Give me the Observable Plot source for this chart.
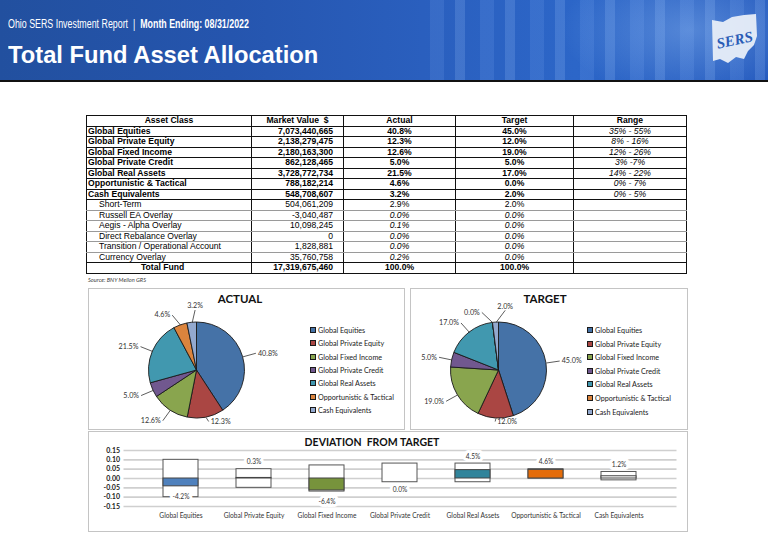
<!DOCTYPE html>
<html>
<head>
<meta charset="utf-8">
<script src="https://cdn.jsdelivr.net/npm/d3@7"></script>
<script src="https://cdn.jsdelivr.net/npm/@observablehq/plot@0.6"></script>
<style>
html,body{margin:0;padding:0;background:#fff;}
body{width:768px;height:552px;position:relative;overflow:hidden;font-family:"Liberation Sans",Arial,sans-serif;}
#header{position:absolute;left:0;top:0;width:768px;height:80px;border-bottom:2px solid #111;overflow:hidden;
  background:linear-gradient(90deg,#22509f 0%,#2555ae 30%,#2a5fbe 55%,#2c66c8 75%,#2258bd 100%);}
#stripes{position:absolute;left:430px;top:0;width:338px;height:80px;
  background:repeating-linear-gradient(90deg,rgba(150,190,255,0.13) 0 14px,rgba(0,0,0,0) 14px 25px,rgba(170,205,255,0.18) 25px 35px,rgba(0,0,0,0) 35px 50px);}
#glow{position:absolute;left:560px;top:-40px;width:260px;height:140px;background:radial-gradient(ellipse at center,rgba(170,210,255,0.35),rgba(0,0,0,0) 70%);}
.nar{display:inline-block;transform-origin:left center;white-space:nowrap;}
#sub .nar{transform:scaleX(0.72);}
#title .nar{transform:scaleX(1.01);}
#sub{position:absolute;left:8px;top:17px;font-size:12.3px;line-height:14px;color:#fff;white-space:nowrap;}
#title{position:absolute;left:8px;top:42px;font-size:23.5px;line-height:26px;font-weight:bold;color:#fff;white-space:nowrap;}
#logo{position:absolute;left:710px;top:14px;}
#tbl{position:absolute;left:86px;top:115px;width:600px;border-collapse:collapse;table-layout:fixed;border:1.5px solid #111;font-size:8.6px;color:#000;}
#tbl td{height:9.5px;line-height:9.5px;padding:0;border-left:1px solid #111;border-right:1px solid #111;border-bottom:1px solid #111;white-space:nowrap;overflow:hidden;}
#tbl tr.sub td{border-bottom-color:#9a9a9a;}
#tbl tr.sub.last td{border-bottom-color:#111;}
#tbl tr.main td, #tbl tr.head td, #tbl tr.total td{font-weight:bold;}
#source{position:absolute;left:88px;top:276px;font-family:Lato,"Open Sans",sans-serif;font-style:italic;font-size:5.7px;color:#404040;}
.panel{position:absolute;box-sizing:border-box;border:1.5px solid #c4c4c4;background:#fff;}
.ptitle{position:absolute;font-family:Lato,"Open Sans",sans-serif;font-weight:bold;color:#111;text-align:center;white-space:nowrap;}
.legend{position:absolute;font-family:Lato,"Open Sans",sans-serif;font-size:7.2px;color:#222;}
.legend .row{position:absolute;left:0;white-space:nowrap;line-height:9px;}
.legend .sw{display:inline-block;width:4px;height:4px;border:1px solid #1a1a1a;margin-right:2px;vertical-align:0px;}
.panel svg{position:absolute;left:0;top:0;}
</style>
</head>
<body>
<div id="header">
  <div id="stripes"></div>
  <div id="glow"></div>
  <div id="sub"><span class="nar">Ohio SERS Investment Report&nbsp; |&nbsp; <b>Month Ending: 08/31/2022</b></span></div>
  <div id="title"><span class="nar">Total Fund Asset Allocation</span></div>
  <svg id="logo" width="50" height="54" viewBox="0 0 50 54">
    <path d="M2,6 L13,8 L22,3 L34,1 L46,0 L47,22 L44,31 L38,37 L34,45 L26,43 L18,49 L10,45 L3,47 Z" fill="#e8eef8" opacity="0.95"/>
    <text x="25" y="31" text-anchor="middle" transform="rotate(-12 25 28)" font-family="Liberation Serif,serif" font-style="italic" font-weight="bold" font-size="15" fill="#2a5cb6">SERS</text>
  </svg>
</div>

<table id="tbl"></table>
<div id="source">Source: BNY Mellon GRS</div>

<div class="panel" id="actualPanel" style="left:88px;top:288px;width:317px;height:142px;"></div>
<div class="panel" id="targetPanel" style="left:410px;top:288px;width:278px;height:142px;"></div>
<div class="panel" id="devPanel" style="left:88px;top:431px;width:600px;height:101px;"></div>

<script>
// ---------------- DATA ----------------
const categories = ["Global Equities", "Global Private Equity", "Global Fixed Income", "Global Private Credit", "Global Real Assets", "Opportunistic & Tactical", "Cash Equivalents"];
const actualShare = [40.8, 12.3, 12.6, 5.0, 21.5, 4.6, 3.2];
const targetShare = [45.0, 12.0, 19.0, 5.0, 17.0, 0.0, 2.0];
const deviation = [-0.042, 0.003, -0.064, 0.000, 0.045, 0.046, 0.012];
const rangeLow = [-0.10, -0.05, -0.07, -0.02, -0.02, 0.00, -0.01];
const rangeHigh = [0.10, 0.05, 0.07, 0.08, 0.08, 0.05, 0.035];
const yTicks = [-0.15, -0.10, -0.05, 0, 0.05, 0.10, 0.15];

const tableHeader = ["Asset Class", "Market Value\u00a0\u00a0$", "Actual", "Target", "Range"];
const tableClasses = ["Global Equities", "Global Private Equity", "Global Fixed Income", "Global Private Credit", "Global Real Assets", "Opportunistic & Tactical", "Cash Equivalents", "Short-Term", "Russell EA Overlay", "Aegis - Alpha Overlay", "Direct Rebalance Overlay", "Transition / Operational Account", "Currency Overlay"];
const tableMarketValue = ["7,073,440,665", "2,138,279,475", "2,180,163,300", "862,128,465", "3,728,772,734", "788,182,214", "548,708,607", "504,061,209", "-3,040,487", "10,098,245", "0", "1,828,881", "35,760,758"];
const tableActual = ["40.8%", "12.3%", "12.6%", "5.0%", "21.5%", "4.6%", "3.2%", "2.9%", "0.0%", "0.1%", "0.0%", "0.0%", "0.2%"];
const tableTarget = ["45.0%", "12.0%", "19.0%", "5.0%", "17.0%", "0.0%", "2.0%", "2.0%", "0.0%", "0.0%", "0.0%", "0.0%", "0.0%"];
const tableRange = ["35% - 55%", "8% - 16%", "12% - 26%", "3% -7%", "14% - 22%", "0% - 7%", "0% - 5%", "", "", "", "", "", ""];
const tableTotal = ["Total Fund", "17,319,675,460", "100.0%", "100.0%", ""];

// ---------------- STYLE ----------------
const pieColors = ["#4572A7", "#AA4643", "#89A54E", "#71588F", "#4198AF", "#DB843D", "#93A9CF"];
const devFills = ["#4F81BD", "#FFFFFF", "#77933C", "#FFFFFF", "#31849B", "#E46C0A", "#FFFFFF"];
const mainRows = 7;

// ---------------- TABLE ----------------
(function buildTable() {
  const t = document.getElementById("tbl");
  const widths = [165, 92, 112, 118, 113];
  const cg = document.createElement("colgroup");
  widths.forEach(w => { const c = document.createElement("col"); c.style.width = w + "px"; cg.appendChild(c); });
  t.appendChild(cg);
  function addRow(cls, cells, styles) {
    const tr = document.createElement("tr");
    tr.className = cls;
    cells.forEach((txt, j) => {
      const td = document.createElement("td");
      Object.assign(td.style, styles[j] || {});
      td.textContent = txt;
      tr.appendChild(td);
    });
    t.appendChild(tr);
  }
  addRow("head", tableHeader, [{textAlign: "center"}, {textAlign: "center"}, {textAlign: "center"}, {textAlign: "center"}, {textAlign: "center"}]);
  tableClasses.forEach((name, i) => {
    const main = i < mainRows;
    const italicVals = !main && i > mainRows;
    const cls = main ? "main" : ("sub" + (i === tableClasses.length - 1 ? " last" : ""));
    addRow(cls, [name, tableMarketValue[i], tableActual[i], tableTarget[i], tableRange[i]], [
      {textAlign: "left", paddingLeft: main ? "1px" : "12px"},
      {textAlign: "right", paddingRight: "10px"},
      {textAlign: "center", fontStyle: italicVals ? "italic" : "normal"},
      {textAlign: "center", fontStyle: italicVals ? "italic" : "normal"},
      {textAlign: "center", fontStyle: "italic", fontWeight: "normal"}
    ]);
  });
  addRow("total", tableTotal, [{textAlign: "left", paddingLeft: "54px"}, {textAlign: "right", paddingRight: "10px"}, {textAlign: "center"}, {textAlign: "center"}, {}]);
})();

// ---------------- PIES ----------------
const fmtShare = v => v.toFixed(1) + "%";

function spreadAngles(angles, minSep) {
  const out = angles.slice();
  for (let it = 0; it < 60; it++) {
    let moved = false;
    for (let i = 0; i < out.length - 1; i++) {
      const gap = out[i + 1] - out[i];
      if (gap < minSep - 1e-6) { const d = (minSep - gap) / 2; out[i] -= d; out[i + 1] += d; moved = true; }
    }
    if (!moved) break;
  }
  return out;
}

function pieSlices(rows) {
  return (index, scales) => {
    const cx = scales.x(0), cy = scales.y(0);
    const r = Math.abs(scales.x(1) - scales.x(0));
    const color = scales.color || d3.scaleOrdinal(categories, pieColors);
    const arcs = d3.pie().sort(null).value(d => d.value)(rows);
    const arc = d3.arc().innerRadius(0).outerRadius(r);
    const g = d3.create("svg:g").attr("transform", `translate(${cx},${cy})`);
    g.selectAll("path").data(arcs).join("path")
      .attr("d", arc)
      .attr("fill", d => color(d.data.name))
      .attr("stroke", "#1a1a1a")
      .attr("stroke-width", 0.9)
      .attr("stroke-linejoin", "round");
    return g.node();
  };
}

function piePanel(panelId, shares, titleText, lay) {
  const panel = document.getElementById(panelId);
  const rows = categories.map((name, i) => ({name, value: shares[i]}));
  const arcs = d3.pie().sort(null).value(d => d.value)(rows);
  const mids = arcs.map(a => (a.startAngle + a.endAngle) / 2);
  const lab = spreadAngles(mids, 22 * Math.PI / 180);
  const minLy = -(lay.h - 7 - lay.cy) / lay.r;
  const labels = arcs.map((a, i) => {
    const sx = Math.sin(lab[i]), sy = Math.cos(lab[i]);
    return {
      text: fmtShare(a.data.value),
      ex: Math.sin(mids[i]), ey: Math.cos(mids[i]),
      lx: sx * 1.28, ly: Math.max(minLy, sy * 1.26),
      side: sx > 0.15 ? "start" : sx < -0.15 ? "end" : (sy > 0 ? "top" : "start")
    };
  });
  const txt = {text: "text", x: "lx", y: "ly", fontSize: 7.2, fill: "#333"};
  const plot = Plot.plot({
    width: lay.w, height: lay.h, margin: 0,
    style: {fontFamily: "Lato, 'Open Sans', sans-serif", background: "transparent", overflow: "visible"},
    x: {domain: [-1, 1], range: [lay.cx - lay.r, lay.cx + lay.r], axis: null},
    y: {domain: [-1, 1], range: [lay.cy + lay.r, lay.cy - lay.r], axis: null},
    color: {domain: categories, range: pieColors},
    marks: [
      Plot.dot(rows, {x: () => 0, y: () => 0, fill: "name", r: 0.01, fillOpacity: 0}),
      pieSlices(rows),
      Plot.link(labels, {x1: "ex", y1: "ey", x2: "lx", y2: "ly", stroke: "#333", strokeWidth: 0.8}),
      Plot.text(labels.filter(d => d.side === "start"), {...txt, textAnchor: "start", dx: 2}),
      Plot.text(labels.filter(d => d.side === "end"), {...txt, textAnchor: "end", dx: -2}),
      Plot.text(labels.filter(d => d.side === "top"), {...txt, textAnchor: "middle", dy: -4})
    ]
  });
  panel.appendChild(plot);

  const title = document.createElement("div");
  title.className = "ptitle";
  title.textContent = titleText;
  Object.assign(title.style, {left: (lay.tx - 60) + "px", width: "120px", top: "2px", fontSize: "11.5px", lineHeight: "16px"});
  panel.appendChild(title);

  const leg = document.createElement("div");
  leg.className = "legend";
  Object.assign(leg.style, {left: lay.lgx + "px", top: lay.lgy + "px"});
  categories.forEach((name, i) => {
    const row = document.createElement("div");
    row.className = "row";
    row.style.top = (i * lay.lgs) + "px";
    const sw = document.createElement("span");
    sw.className = "sw";
    sw.style.background = pieColors[i];
    row.appendChild(sw);
    row.appendChild(document.createTextNode(name));
    leg.appendChild(row);
  });
  panel.appendChild(leg);
}

piePanel("actualPanel", actualShare, "ACTUAL", {w: 314, h: 139, cx: 107.5, cy: 81, r: 48, tx: 151, lgx: 221, lgy: 37, lgs: 13.3});
piePanel("targetPanel", targetShare, "TARGET", {w: 275, h: 139, cx: 87.5, cy: 81, r: 48, tx: 134, lgx: 176, lgy: 37, lgs: 13.6});

// ---------------- DEVIATION ----------------
(function deviationChart() {
  const panel = document.getElementById("devPanel");
  const devData = categories.map((category, i) => ({category, low: rangeLow[i], high: rangeHigh[i], dev: deviation[i]}));
  const fmtDev = d => (d.dev * 100).toFixed(1) + "%";
  const lbl = {x: "category", text: fmtDev, fontSize: 6.6, fill: "#333", stroke: "white", strokeWidth: 6};
  const plot = Plot.plot({
    width: 597, height: 98,
    marginTop: 18, marginBottom: 24, marginLeft: 34.5, marginRight: 9.5,
    style: {fontFamily: "Lato, 'Open Sans', sans-serif", background: "transparent", overflow: "visible"},
    x: {domain: categories, padding: 0.52},
    y: {domain: [-0.15, 0.15]},
    color: {domain: categories, range: devFills},
    marks: [
      Plot.gridY(yTicks, {stroke: "#cfcfcf", strokeOpacity: 1, strokeWidth: 1.6}),
      Plot.barY(devData, {x: "category", y1: "low", y2: "high", fill: "white", stroke: "#555", strokeWidth: 1}),
      Plot.barY(devData, {x: "category", y1: () => 0, y2: "dev", fill: "category", stroke: "#444", strokeWidth: 1}),
      Plot.text(devData.filter(d => d.dev > 0), {...lbl, y: "high", dy: -7}),
      Plot.text(devData.filter(d => d.dev <= 0), {...lbl, y: "dev", dy: 11}),
      Plot.axisY(yTicks, {tickFormat: d => d.toFixed(2), tickSize: 0, tickPadding: 4, label: null, fontSize: 7, fontWeight: "bold", fill: "#222"}),
      Plot.axisX({tickSize: 0, tickPadding: 7, label: null, fontSize: 6.6, fill: "#333"})
    ]
  });
  panel.appendChild(plot);
  const title = document.createElement("div");
  title.className = "ptitle";
  title.textContent = "DEVIATION  FROM TARGET";
  Object.assign(title.style, {left: "183px", width: "200px", top: "3px", fontSize: "10.5px", lineHeight: "14px", whiteSpace: "pre"});
  panel.appendChild(title);
})();
</script>
</body>
</html>
